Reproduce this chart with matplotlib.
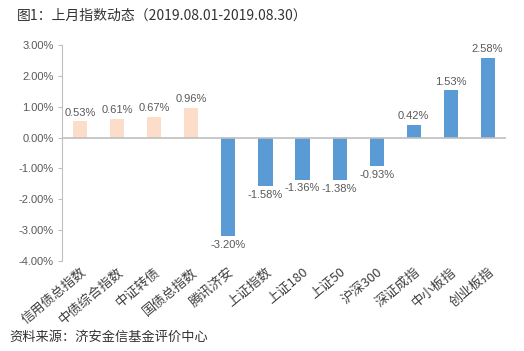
import numpy as np
import matplotlib.pyplot as plt
from matplotlib.ticker import FuncFormatter

plt.rcParams['font.family'] = ['Noto Sans CJK SC', 'DejaVu Sans']

names = ['信用债总指数', '中债综合指数', '中证转债', '国债总指数', '腾讯济安', '上证指数',
         '上证180', '上证50', '沪深300', '深证成指', '中小板指', '创业板指']
values = [0.53, 0.61, 0.67, 0.96, -3.20, -1.58, -1.36, -1.38, -0.93, 0.42, 1.53, 2.58]
bond_count = 4

peach = '#FBDDC9'
blue = '#5B9BD5'
grey = '#595959'
num_font = 'Liberation Sans'

fig = plt.figure(figsize=(5.24, 3.51), dpi=100)
ax = fig.add_axes([0.118, 0.256, 0.848, 0.616])

x = np.arange(len(values))
colors = [peach] * bond_count + [blue] * (len(values) - bond_count)
ax.bar(x, values, width=0.38, color=colors, zorder=2)

for xi, v in zip(x, values):
    off = 0.12 if v >= 0 else -0.12
    ax.text(xi, v + off, '%.2f%%' % v, ha='center', va='bottom' if v >= 0 else 'top',
            fontsize=8, color=grey, family=num_font)

ax.axhline(0, color='#BFBFBF', lw=1.2, zorder=3)
ax.set_xlim(-0.5, len(values) - 0.5)
ax.set_ylim(-4, 3)
ax.set_yticks(np.arange(-4, 4, 1))
ax.yaxis.set_major_formatter(FuncFormatter(lambda v, p: '%.2f%%' % v))
for lab in ax.get_yticklabels():
    lab.set_family(num_font)
ax.tick_params(axis='y', labelsize=8, colors=grey, length=3, width=0.8, color='#BFBFBF', pad=3)

ax.set_xticks(x)
ax.set_xticklabels(names, rotation=40, ha='right', rotation_mode='anchor', fontsize=9.5, color='#404040')
ax.tick_params(axis='x', length=0, pad=3)

for s in ['top', 'right', 'bottom']:
    ax.spines[s].set_visible(False)
ax.spines['left'].set_color('#BFBFBF')
ax.spines['left'].set_linewidth(0.8)

fig.text(0.032, 0.955, '图1：上月指数动态（2019.08.01-2019.08.30）', fontsize=10, color='#333333', va='center')
fig.text(0.018, 0.04, '资料来源：济安金信基金评价中心', fontsize=9.5, color='#333333', va='center')

fig.savefig('out.png', dpi=100)
